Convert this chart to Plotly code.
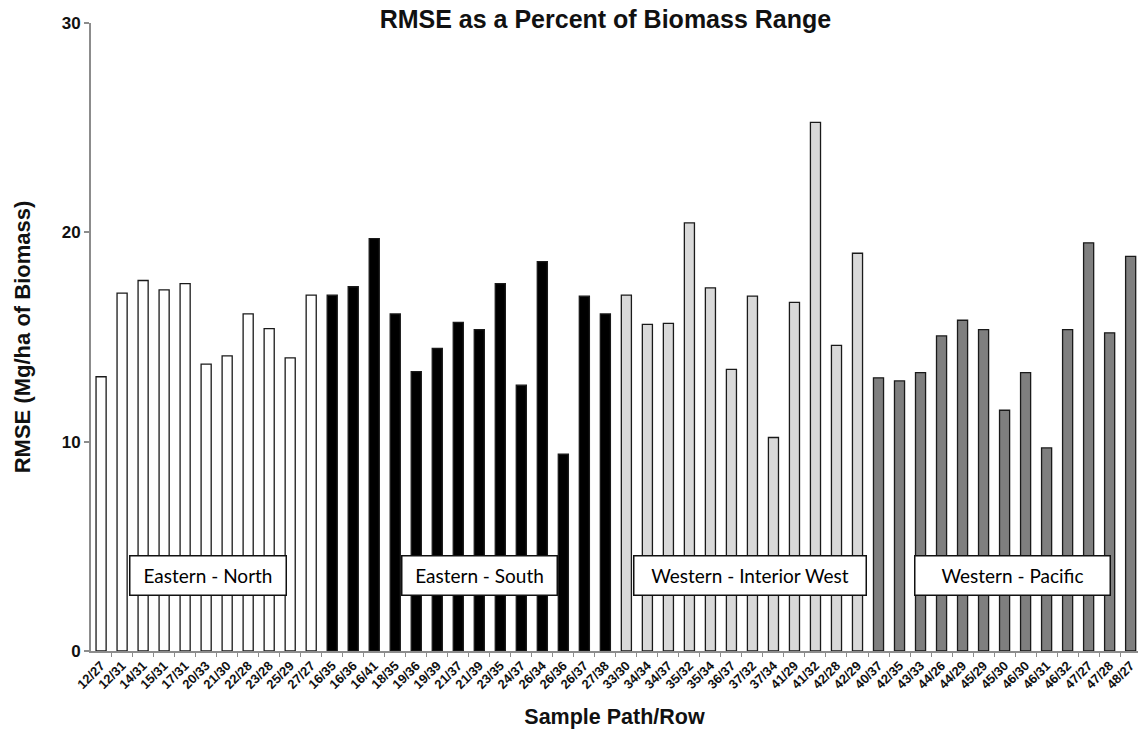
import plotly.graph_objects as go

# ---- data ----
north_labels = ["12/27", "12/31", "14/31", "15/31", "17/31", "20/33", "21/30", "22/28", "23/28", "25/29", "27/27"]
north_values = [13.1, 17.1, 17.7, 17.25, 17.55, 13.7, 14.1, 16.1, 15.4, 14.0, 17.0]

south_labels = ["16/35", "16/36", "16/41", "18/35", "19/36", "19/39", "21/37", "21/39", "23/35", "24/37", "26/34", "26/36", "26/37", "27/38"]
south_values = [17.0, 17.4, 19.7, 16.1, 13.35, 14.45, 15.7, 15.35, 17.55, 12.7, 18.6, 9.4, 16.95, 16.1]

interior_labels = ["33/30", "34/34", "34/37", "35/32", "35/34", "36/37", "37/32", "37/34", "41/29", "41/32", "42/28", "42/29"]
interior_values = [17.0, 15.6, 15.65, 20.45, 17.35, 13.45, 16.95, 10.2, 16.65, 25.25, 14.6, 19.0]

pacific_labels = ["40/37", "42/35", "43/33", "44/26", "44/29", "45/29", "45/30", "46/30", "46/31", "46/32", "47/27", "47/28", "48/27"]
pacific_values = [13.05, 12.9, 13.3, 15.05, 15.8, 15.35, 11.5, 13.3, 9.7, 15.35, 19.5, 15.2, 18.85]

regions = ["Eastern - North", "Eastern - South", "Western - Interior West", "Western - Pacific"]
region_colors = ["#ffffff", "#000000", "#d9d9d9", "#7f7f7f"]

y_ticks = [0, 10, 20, 30]

all_labels = north_labels + south_labels + interior_labels + pacific_labels

FONT = "Liberation Sans, Arial, sans-serif"
BOXFONT = "Lato, Noto Sans, sans-serif"

fig = go.Figure()
groups = [(north_labels, north_values), (south_labels, south_values),
          (interior_labels, interior_values), (pacific_labels, pacific_values)]
for name, color, (labs, vals) in zip(regions, region_colors, groups):
    fig.add_trace(go.Bar(
        x=labs, y=vals, name=name,
        marker=dict(color=color, line=dict(color="#1a1a1a", width=1.3)),
        showlegend=False,
    ))

# region label boxes (centre index within the category axis)
box_centres = [5.1, 18.0, 30.9, 43.4]
box_widths = [153, 152, 229, 192]
for name, cx, w in zip(regions, box_centres, box_widths):
    fig.add_annotation(
        x=cx, y=3.63, xref="x", yref="y", text=name, showarrow=False,
        width=w, height=36, bgcolor="white", bordercolor="#111111", borderwidth=1.5,
        font=dict(family=BOXFONT, size=19, color="#000000"),
    )

fig.update_layout(
    width=1138, height=732,
    margin=dict(l=91, r=0, t=23, b=81),
    paper_bgcolor="white", plot_bgcolor="white",
    bargap=0.52,
    font=dict(family=FONT, color="#111111"),
    title=dict(text="<b>RMSE as a Percent of Biomass Range</b>", x=0.532, xref="container",
               xanchor="center", y=0.974, yref="container", yanchor="middle",
               font=dict(family=FONT, size=25, color="#111111")),
    xaxis=dict(
        type="category", categoryorder="array", categoryarray=all_labels,
        range=[-0.48, 49.35], automargin=False,
        showline=True, linecolor="#8c8c8c", linewidth=2,
        ticks="outside", tickson="boundaries", ticklen=4, tickcolor="#8c8c8c", tickwidth=1,
        tickangle=-45, tickfont=dict(family=FONT, size=13, color="#111111", weight="bold"),
        showgrid=False, zeroline=False,
        title=dict(text="<b>Sample Path/Row</b>", standoff=18,
                   font=dict(family=FONT, size=21.5, color="#111111")),
    ),
    yaxis=dict(
        range=[0, 30], tickvals=y_ticks, ticktext=[str(t) for t in y_ticks], automargin=False,
        showline=True, linecolor="#8c8c8c", linewidth=2,
        ticks="outside", ticklen=5, tickcolor="#8c8c8c", tickwidth=1.5,
        tickfont=dict(family=FONT, size=17, color="#111111", weight="bold"),
        showgrid=False, zeroline=False,
        title=dict(text="<b>RMSE (Mg/ha of Biomass)</b>", standoff=25,
                   font=dict(family=FONT, size=22, color="#111111")),
    ),
)

# remove the browser's default page margin so the figure fills the window exactly
fig.write_html("out.html", config={"displayModeBar": False},
               post_script="document.body.style.margin='0';document.body.style.overflow='hidden';")
